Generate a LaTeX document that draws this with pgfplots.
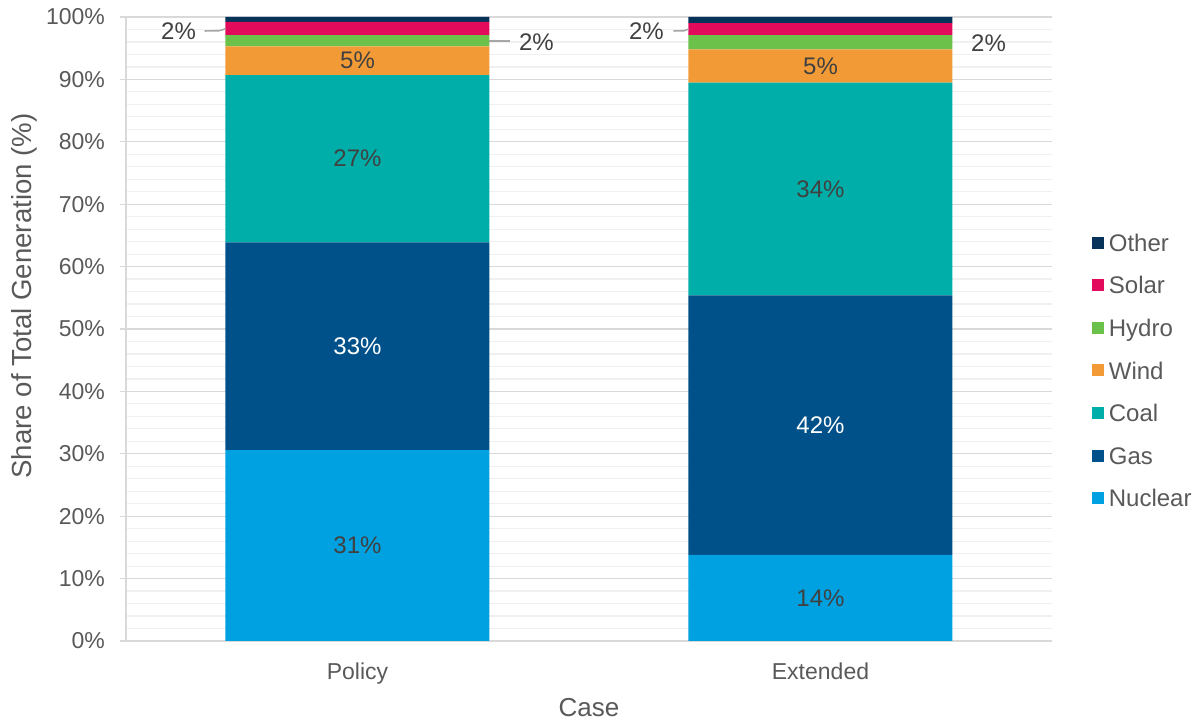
\documentclass[border=0pt]{standalone}
\usepackage{pgfplots}
\usepackage{pgfplotstable}
\pgfplotsset{compat=1.18}
\usepackage{fontspec}
\setmainfont{Liberation Sans}

\definecolor{cNuclear}{HTML}{00A1E0}
\definecolor{cGas}{HTML}{005189}
\definecolor{cCoal}{HTML}{00AEA9}
\definecolor{cWind}{HTML}{F29B36}
\definecolor{cHydro}{HTML}{6CC14B}
\definecolor{cSolar}{HTML}{E20B5B}
\definecolor{cOther}{HTML}{07335A}
\definecolor{txt}{HTML}{595959}
\definecolor{lbl}{HTML}{404040}
\definecolor{gridmaj}{HTML}{D9D9D9}
\definecolor{gridmin}{HTML}{F0F0F0}
\definecolor{leader}{HTML}{A6A6A6}

% share of total generation by source (%), 0 = Policy, 1 = Extended
\pgfplotstableread{
x  Nuclear Gas  Coal Wind Hydro Solar Other
0  30.6    33.3 26.8 4.6  1.8   2.1   0.8
1  13.8    41.6 34.1 5.3  2.3   1.9   1.0
}\gen

% value labels at segment midpoints
\pgfplotstableread{
x     y      v
0     15.3   31
0     77.3   27
0     93.0   5
1     6.9    14
1     72.45  34
1     92.15  5
}\darklabels
\pgfplotstableread{
x  y      v
0  47.25  33
1  34.6   42
}\whitelabels
% small segments, labelled beside the bars
\pgfplotstableread{
x       y      v
-0.3866 97.76  2
0.3866  96.0   2
0.624   97.76  2
1.363   95.8   2
}\sidelabels

\pgfplotsset{
  geom/.style={width=463pt, height=312pt, scale only axis,
    xmin=-0.5, xmax=1.5, ymin=0, ymax=100,
    at={(0,0)}, anchor=south west},
  sq/.style={legend image code/.code={%
    \fill[##1] (0pt,-1.9pt) rectangle (6pt,4.1pt);
    \path (7pt,0pt);}},
}

\begin{document}
\begin{tikzpicture}[font=\fontsize{11.5}{13.8}\selectfont]
\begin{axis}[geom,
  ybar stacked, bar width=132pt,
  xtick={0,1}, xticklabels={Policy,Extended},
  ytick={0,10,...,100},
  minor y tick num=4,
  yticklabel={\pgfmathprintnumber{\tick}\%},
  ymajorgrids, yminorgrids,
  major grid style={gridmaj, line width=0.6pt},
  minor grid style={gridmin, line width=0.6pt},
  axis x line*=bottom, axis y line*=left,
  axis line style={gridmaj, line width=0.8pt, -},
  tick align=outside,
  xtick style={draw=none},
  ytick style={gridmaj, line width=0.6pt},
  major tick length=3pt, minor tick length=0pt,
  ticklabel style={text=txt},
  xticklabel style={yshift=-4.5pt},
  yticklabel style={xshift=-4pt},
  /pgf/number format/assume math mode=true,
  xlabel={Case}, ylabel={Share of Total Generation (\%)},
  label style={text=txt},
  xlabel style={at={(axis description cs:0.5,-0.106)}, anchor=center,
    font=\fontsize{13}{15.6}\selectfont},
  ylabel style={at={(axis description cs:-0.1102,0.553)}, anchor=center,
    font=\fontsize{13.8}{16.5}\selectfont},
  legend style={at={(axis description cs:1.0432,0.4300)}, anchor=west,
    draw=none, fill=none, text=txt, inner sep=0pt, row sep=7.3pt,
    font=\fontsize{12}{14.4}\selectfont,
    nodes={inner sep=1.25pt, text height=9pt, text depth=2.5pt}},
  legend cell align=left,
  reverse legend,
]
\addplot[fill=cNuclear, draw=none, sq] table[x=x, y=Nuclear]{\gen};
\addplot[fill=cGas,     draw=none, sq] table[x=x, y=Gas]{\gen};
\addplot[fill=cCoal,    draw=none, sq] table[x=x, y=Coal]{\gen};
\addplot[fill=cWind,    draw=none, sq] table[x=x, y=Wind]{\gen};
\addplot[fill=cHydro,   draw=none, sq] table[x=x, y=Hydro]{\gen};
\addplot[fill=cSolar,   draw=none, sq] table[x=x, y=Solar]{\gen};
\addplot[fill=cOther,   draw=none, sq] table[x=x, y=Other]{\gen};
\legend{Nuclear,Gas,Coal,Wind,Hydro,Solar,Other}
\end{axis}

\begin{axis}[geom, hide axis, clip=false,
  nodes near coords={\pgfmathprintnumber{\pgfplotspointmeta}\%},
  nodes near coords align={center},
  /pgf/number format/assume math mode=true,
  every node near coord/.append style={font=\fontsize{12}{14.4}\selectfont},
]
\addplot[only marks, mark=*, mark size=0pt, mark options={draw=none, fill=none},
  point meta=explicit, nodes near coords style={anchor=center, text=lbl}]
  table[x=x, y=y, meta=v]{\darklabels};
\addplot[only marks, mark=*, mark size=0pt, mark options={draw=none, fill=none},
  point meta=explicit, nodes near coords style={anchor=center, text=white}]
  table[x=x, y=y, meta=v]{\whitelabels};
\addplot[only marks, mark=*, mark size=0pt, mark options={draw=none, fill=none},
  point meta=explicit, nodes near coords style={anchor=center, text=lbl}]
  table[x=x, y=y, meta=v]{\sidelabels};
% leader lines
\draw[leader, line width=0.8pt] (axis cs:-0.330,97.76) -- (axis cs:-0.300,97.8)
  to[out=0,in=200] (axis cs:-0.285,98.15);
\draw[leader, line width=0.8pt] (axis cs:0.285,96.2) -- (axis cs:0.330,96.2);
\draw[leader, line width=0.8pt] (axis cs:0.6825,97.76) -- (axis cs:0.705,97.8)
  to[out=0,in=200] (axis cs:0.715,98.05);
\end{axis}

\pgfresetboundingbox
\path[use as bounding box] (-63pt,-41pt) rectangle (537.5pt,320.5pt);
\end{tikzpicture}
\end{document}
